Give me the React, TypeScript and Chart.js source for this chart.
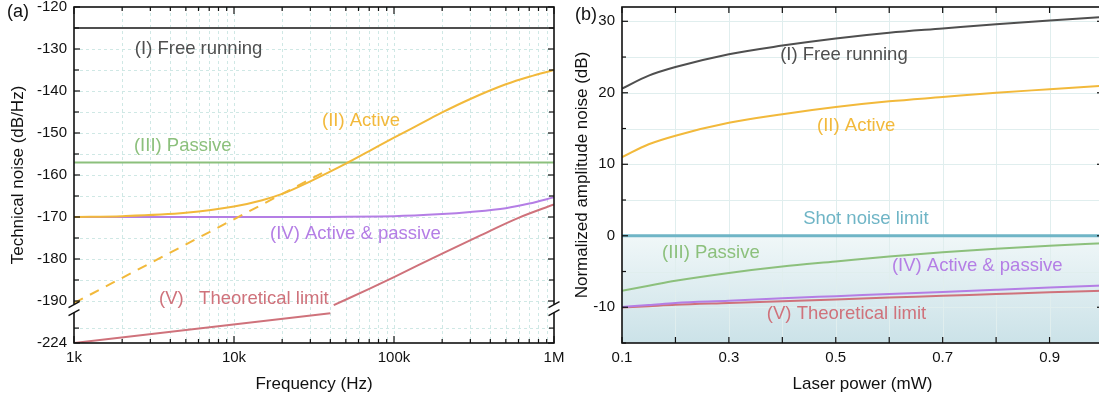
import React, { useEffect, useRef } from "react";
import { Chart, registerables } from "chart.js";

Chart.register(...registerables);

const FONT = "'Liberation Sans', Arial, Helvetica, sans-serif";

// ---------------- Panel (a): technical noise vs frequency ----------------
const A_X_TICK_VALUES = [1e3, 1e4, 1e5, 1e6];
const A_X_TICK_LABELS = ["1k", "10k", "100k", "1M"];
const A_Y_TICK_VALUES = [-120, -130, -140, -150, -160, -170, -180, -190, -224];
const A_Y_TICK_LABELS = ["-120", "-130", "-140", "-150", "-160", "-170", "-180", "-190", "-224"];
const A_Y_MINOR_VALUES = [-125, -135, -145, -155, -165, -175, -185, -212];

// axis break: values below the break are shown on a compressed segment
const A_BREAK_UPPER = -192.9; // lowest level of the uncompressed segment
const A_LOWER_RANGE = [-224, -200]; // real range shown in the compressed segment
const A_AXIS_BOTTOM = -200; // display value at the bottom edge
const A_AXIS_TOP = -120;

const A_FREE_FREQ = [1e3, 1e6];
const A_FREE_NOISE = [-125, -125];
const A_PASSIVE_FREQ = [1e3, 1e6];
const A_PASSIVE_NOISE = [-157, -157];
const A_ACTIVE_FREQ = [1e3, 2e3, 5e3, 1e4, 1.5e4, 2e4, 3e4, 5e4, 7e4, 1e5, 1.5e5, 2e5, 3e5, 5e5, 7e5, 1e6];
const A_ACTIVE_NOISE = [-170, -169.8, -169, -167.5, -166, -164.5, -161.5, -157.3, -154.3, -151.1, -147.6, -145.1, -141.9, -138.4, -136.6, -135];
const A_ACTIVE_ASYM_FREQ = [1e3, 4e4];
const A_ACTIVE_ASYM_NOISE = [-190.5, -158.5];
const A_BOTH_FREQ = [1e3, 1e4, 1e5, 2e5, 3e5, 5e5, 7e5, 1e6];
const A_BOTH_NOISE = [-170, -170, -169.8, -169.3, -168.8, -167.9, -166.8, -165.3];
const A_LIMIT_LOW_FREQ = [1e3, 4e4];
const A_LIMIT_LOW_NOISE = [-224, -200];
const A_LIMIT_HIGH_FREQ = [4.2e4, 7e4, 1e5, 2e5, 3.5e5, 6e5, 1e6];
const A_LIMIT_HIGH_NOISE = [-191, -187.1, -184.3, -178.7, -174.3, -170.2, -167];

// ---------------- Panel (b): normalized amplitude noise vs power ----------------
const B_X_TICK_VALUES = [0.1, 0.3, 0.5, 0.7, 0.9];
const B_X_TICK_LABELS = ["0.1", "0.3", "0.5", "0.7", "0.9"];
const B_X_MINOR_VALUES = [0.2, 0.4, 0.6, 0.8, 1.0];
const B_Y_TICK_VALUES = [30, 20, 10, 0, -10];
const B_Y_TICK_LABELS = ["30", "20", "10", "0", "-10"];
const B_Y_MINOR_VALUES = [25, 15, 5, -5, -15];

const B_POWER = [0.1, 0.15, 0.2, 0.3, 0.4, 0.5, 0.6, 0.7, 0.8, 0.9, 1.0];
const B_FREE = [20.6, 22.4, 23.6, 25.4, 26.6, 27.6, 28.4, 29.0, 29.6, 30.1, 30.6];
const B_ACTIVE = [11.0, 12.8, 14.0, 15.8, 17.0, 18.0, 18.8, 19.4, 20.0, 20.5, 21.0];
const B_PASSIVE = [-7.7, -7.0, -6.3, -5.2, -4.3, -3.6, -2.9, -2.3, -1.8, -1.4, -1.05];
const B_BOTH = [-9.95, -9.7, -9.4, -9.1, -8.75, -8.45, -8.15, -7.85, -7.55, -7.25, -6.95];
const B_LIMIT = [-10.05, -9.85, -9.65, -9.4, -9.15, -8.9, -8.65, -8.4, -8.15, -7.9, -7.7];
const B_SHOT = [0, 0, 0, 0, 0, 0, 0, 0, 0, 0, 0];

const COLORS = {
  free: "#4f4f4f",
  active: "#f2b93b",
  passive: "#8cc07c",
  both: "#b47ee5",
  limit: "#cf727b",
  shot: "#6fb5c6",
};

function aDisplay(v: number) {
  if (v >= A_BREAK_UPPER) return v;
  const [lo, hi] = A_LOWER_RANGE;
  return A_AXIS_BOTTOM + ((v - lo) / (hi - lo)) * (A_BREAK_UPPER - A_AXIS_BOTTOM);
}

function pts(xs: number[], ys: number[], map: (v: number) => number = (v) => v) {
  return xs.map((x, i) => ({ x, y: map(ys[i]) }));
}

function lineDs(label: string, data: any[], color: string, extra: any = {}) {
  return {
    label,
    data,
    borderColor: color,
    backgroundColor: color,
    borderWidth: 2,
    pointRadius: 0,
    cubicInterpolationMode: "monotone",
    fill: false,
    ...extra,
  };
}

interface Note { text: string; x: number; y: number; color: string }
interface FrameSpec {
  id: string;
  yMap: (v: number) => number;
  gridX: number[];
  gridY: number[];
  gridColor: string;
  gridDash: number[];
  xTicks: { v: number; major: boolean }[];
  yTicks: { v: number; major: boolean }[];
  xLabels: { v: number; text: string }[];
  yLabels: { v: number; text: string }[];
  xMajorLen: number;
  xMinorLen: number;
  yMajorLen: number;
  yMinorLen: number;
  breakAt?: number;
  xTitle: string;
  yTitle: string;
  yTitleX: number;
  xTitleX?: number;
  panel: string;
  panelX: number;
  panelY: number;
  notes: Note[];
}

function framePlugin(spec: FrameSpec) {
  return {
    id: spec.id,
    beforeDatasetsDraw(chart: any) {
      const { ctx, chartArea: a, scales } = chart;
      const xs = scales.x, ys = scales.y;
      ctx.save();
      ctx.strokeStyle = spec.gridColor;
      ctx.lineWidth = 1;
      ctx.setLineDash(spec.gridDash);
      for (const v of spec.gridX) {
        const px = Math.round(xs.getPixelForValue(v)) + 0.5;
        if (px <= a.left + 1 || px >= a.right - 1) continue;
        ctx.beginPath();
        ctx.moveTo(px, a.top);
        ctx.lineTo(px, a.bottom);
        ctx.stroke();
      }
      for (const v of spec.gridY) {
        const py = Math.round(ys.getPixelForValue(spec.yMap(v))) + 0.5;
        if (py <= a.top + 1 || py >= a.bottom - 1) continue;
        ctx.beginPath();
        ctx.moveTo(a.left, py);
        ctx.lineTo(a.right, py);
        ctx.stroke();
      }
      ctx.restore();
    },
    afterDraw(chart: any) {
      const { ctx, chartArea: a, scales } = chart;
      const xs = scales.x, ys = scales.y;
      const line = (x1: number, y1: number, x2: number, y2: number) => {
        ctx.beginPath();
        ctx.moveTo(x1, y1);
        ctx.lineTo(x2, y2);
        ctx.stroke();
      };
      ctx.save();
      ctx.setLineDash([]);
      ctx.strokeStyle = "#111";
      ctx.lineWidth = 1.2;
      for (const t of spec.xTicks) {
        const px = xs.getPixelForValue(t.v);
        const len = t.major ? spec.xMajorLen : spec.xMinorLen;
        line(px, a.bottom, px, a.bottom - len);
        line(px, a.top, px, a.top + len);
      }
      for (const t of spec.yTicks) {
        const py = ys.getPixelForValue(spec.yMap(t.v));
        const len = t.major ? spec.yMajorLen : spec.yMinorLen;
        line(a.left, py, a.left + len, py);
        line(a.right, py, a.right - len, py);
      }
      ctx.lineWidth = 1.6;
      ctx.strokeRect(a.left, a.top, a.right - a.left, a.bottom - a.top);

      if (spec.breakAt !== undefined) {
        const yb = ys.getPixelForValue(spec.breakAt);
        const ym = yb - 4.5;
        for (const x of [a.left, a.right]) {
          ctx.fillStyle = "#fff";
          ctx.fillRect(x - 2, ym - 4, 4, 8);
          ctx.strokeStyle = "#111";
          ctx.lineWidth = 1.4;
          line(x - 5.5, ym - 4 + 3, x + 5.5, ym - 4 - 3);
          line(x - 5.5, ym + 4 + 3, x + 5.5, ym + 4 - 3);
        }
      }

      ctx.fillStyle = "#111";
      ctx.font = `15px ${FONT}`;
      ctx.textAlign = "center";
      ctx.textBaseline = "middle";
      for (const l of spec.xLabels) {
        ctx.fillText(l.text, xs.getPixelForValue(l.v), a.bottom + 15);
      }
      ctx.textAlign = "right";
      for (const l of spec.yLabels) {
        ctx.fillText(l.text, a.left - 7, ys.getPixelForValue(spec.yMap(l.v)));
      }

      ctx.font = `17px ${FONT}`;
      ctx.textAlign = "center";
      ctx.fillText(spec.xTitle, spec.xTitleX ?? (a.left + a.right) / 2, a.bottom + 41);
      ctx.save();
      ctx.translate(spec.yTitleX, (a.top + a.bottom) / 2);
      ctx.rotate(-Math.PI / 2);
      ctx.fillText(spec.yTitle, 0, 0);
      ctx.restore();

      ctx.font = `18px ${FONT}`;
      ctx.textAlign = "left";
      ctx.fillText(spec.panel, spec.panelX, spec.panelY);

      ctx.font = `18.5px ${FONT}`;
      for (const n of spec.notes) {
        ctx.fillStyle = n.color;
        ctx.fillText(n.text, xs.getPixelForValue(n.x), ys.getPixelForValue(spec.yMap(n.y)));
      }
      ctx.restore();
    },
  };
}

function hiddenAxis(extra: any, fit: (s: any) => void) {
  return {
    display: true,
    ticks: { display: false },
    grid: { display: false, drawTicks: false },
    border: { display: false },
    afterFit: fit,
    ...extra,
  };
}

function buildA(canvas: HTMLCanvasElement) {
  const gridX: number[] = [];
  for (const d of [1e3, 1e4, 1e5]) for (let m = 1; m <= 9; m++) gridX.push(m * d);
  gridX.push(1e6);
  const spec: FrameSpec = {
    id: "frameA",
    yMap: aDisplay,
    gridX,
    gridY: [...A_Y_TICK_VALUES, ...A_Y_MINOR_VALUES],
    gridColor: "#cfe8e5",
    gridDash: [3, 3],
    xTicks: gridX.map((v) => ({ v, major: A_X_TICK_VALUES.includes(v) })),
    yTicks: [
      ...A_Y_TICK_VALUES.map((v) => ({ v, major: true })),
      ...A_Y_MINOR_VALUES.map((v) => ({ v, major: false })),
    ],
    xLabels: A_X_TICK_VALUES.map((v, i) => ({ v, text: A_X_TICK_LABELS[i] })),
    yLabels: A_Y_TICK_VALUES.map((v, i) => ({ v, text: A_Y_TICK_LABELS[i] })),
    xMajorLen: 7,
    xMinorLen: 4,
    yMajorLen: 6,
    yMinorLen: 5,
    breakAt: A_BREAK_UPPER,
    xTitle: "Frequency (Hz)",
    yTitle: "Technical noise (dB/Hz)",
    yTitleX: 18,
    panel: "(a)",
    panelX: 7,
    panelY: 12,
    notes: [
      { text: "(I) Free running", x: 2.4e3, y: -130, color: COLORS.free },
      { text: "(II) Active", x: 3.55e4, y: -147.1, color: COLORS.active },
      { text: "(III) Passive", x: 2.37e3, y: -153.1, color: COLORS.passive },
      { text: "(IV) Active & passive", x: 1.68e4, y: -174, color: COLORS.both },
      { text: "(V)   Theoretical limit", x: 3.4e3, y: -189.5, color: COLORS.limit },
    ],
  };
  return new Chart(canvas, {
    type: "line",
    data: {
      datasets: [
        lineDs("(II) Active", pts(A_ACTIVE_FREQ, A_ACTIVE_NOISE, aDisplay), COLORS.active),
        lineDs("(II) asymptote", pts(A_ACTIVE_ASYM_FREQ, A_ACTIVE_ASYM_NOISE, aDisplay), COLORS.active, { borderDash: [10, 8] }),
        lineDs("(I) Free running", pts(A_FREE_FREQ, A_FREE_NOISE, aDisplay), COLORS.free),
        lineDs("(III) Passive", pts(A_PASSIVE_FREQ, A_PASSIVE_NOISE, aDisplay), COLORS.passive),
        lineDs("(IV) Active & passive", pts(A_BOTH_FREQ, A_BOTH_NOISE, aDisplay), COLORS.both),
        lineDs("(V) low", pts(A_LIMIT_LOW_FREQ, A_LIMIT_LOW_NOISE, aDisplay), COLORS.limit),
        lineDs("(V) high", pts(A_LIMIT_HIGH_FREQ, A_LIMIT_HIGH_NOISE, aDisplay), COLORS.limit),
      ],
    },
    options: {
      animation: false,
      responsive: false,
      devicePixelRatio: 1,
      layout: { padding: { top: 7, right: 16, left: 0, bottom: 0 } },
      plugins: { legend: { display: false }, tooltip: { enabled: false } },
      scales: {
        x: hiddenAxis({ type: "logarithmic", min: 1e3, max: 1e6 }, (s: any) => { s.height = 57; }),
        y: hiddenAxis({ type: "linear", min: A_AXIS_BOTTOM, max: A_AXIS_TOP }, (s: any) => { s.width = 74; }),
      },
    } as any,
    plugins: [framePlugin(spec)],
  });
}

function buildB(canvas: HTMLCanvasElement) {
  const gridX = [...B_X_TICK_VALUES, ...B_X_MINOR_VALUES];
  const spec: FrameSpec = {
    id: "frameB",
    yMap: (v) => v,
    gridX,
    gridY: [...B_Y_TICK_VALUES, ...B_Y_MINOR_VALUES],
    gridColor: "#e0eeee",
    gridDash: [],
    xTicks: gridX.map((v) => ({ v, major: true })),
    yTicks: [
      ...B_Y_TICK_VALUES.map((v) => ({ v, major: true })),
      ...B_Y_MINOR_VALUES.map((v) => ({ v, major: false })),
    ],
    xLabels: B_X_TICK_VALUES.map((v, i) => ({ v, text: B_X_TICK_LABELS[i] })),
    yLabels: B_Y_TICK_VALUES.map((v, i) => ({ v, text: B_Y_TICK_LABELS[i] })),
    xMajorLen: 6,
    xMinorLen: 6,
    yMajorLen: 6,
    yMinorLen: 4,
    xTitle: "Laser power (mW)",
    yTitle: "Normalized amplitude noise (dB)",
    yTitleX: 12,
    panel: "(b)",
    panelX: 5,
    panelY: 15,
    notes: [
      { text: "(I) Free running", x: 0.396, y: 25.3, color: COLORS.free },
      { text: "(II) Active", x: 0.465, y: 15.4, color: COLORS.active },
      { text: "Shot noise limit", x: 0.439, y: 2.3, color: COLORS.shot },
      { text: "(III) Passive", x: 0.175, y: -2.4, color: COLORS.passive },
      { text: "(IV) Active & passive", x: 0.605, y: -4.2, color: COLORS.both },
      { text: "(V) Theoretical limit", x: 0.371, y: -10.9, color: COLORS.limit },
    ],
  };
  const shade = (c: any) => {
    const chart = c.chart;
    const area = chart.chartArea;
    if (!area) return "rgba(205,227,233,0.6)";
    const y0 = chart.scales.y.getPixelForValue(0);
    const g = chart.ctx.createLinearGradient(0, y0, 0, area.bottom);
    g.addColorStop(0, "#f0f7f8");
    g.addColorStop(1, "#cbe2e8");
    return g;
  };
  return new Chart(canvas, {
    type: "line",
    data: {
      datasets: [
        lineDs("(I) Free running", pts(B_POWER, B_FREE), COLORS.free),
        lineDs("(II) Active", pts(B_POWER, B_ACTIVE), COLORS.active),
        lineDs("(III) Passive", pts(B_POWER, B_PASSIVE), COLORS.passive),
        lineDs("(IV) Active & passive", pts(B_POWER, B_BOTH), COLORS.both),
        lineDs("(V) Theoretical limit", pts(B_POWER, B_LIMIT), COLORS.limit),
        lineDs("Shot noise limit", pts(B_POWER, B_SHOT), COLORS.shot, {
          borderWidth: 3,
          fill: "start",
          backgroundColor: shade,
        }),
      ],
    },
    options: {
      animation: false,
      responsive: false,
      devicePixelRatio: 1,
      layout: { padding: { top: 7, right: 27, left: 0, bottom: 0 } },
      plugins: {
        legend: { display: false },
        tooltip: { enabled: false },
        filler: { drawTime: "beforeDraw" },
      },
      scales: {
        x: hiddenAxis({ type: "linear", min: 0.1, max: 1.0 }, (s: any) => { s.height = 57; }),
        y: hiddenAxis({ type: "linear", min: -15, max: 32 }, (s: any) => { s.width = 52; }),
      },
    } as any,
    plugins: [framePlugin(spec)],
  });
}

export default function App() {
  const refA = useRef<HTMLCanvasElement>(null);
  const refB = useRef<HTMLCanvasElement>(null);
  useEffect(() => {
    const ca = buildA(refA.current!);
    const cb = buildB(refB.current!);
    return () => {
      ca.destroy();
      cb.destroy();
    };
  }, []);
  return (
    <div
      style={{
        position: "absolute",
        left: 0,
        top: 0,
        width: 1099,
        height: 400,
        overflow: "hidden",
        background: "#fff",
      }}
    >
      <canvas ref={refA} width={570} height={400} style={{ position: "absolute", left: 0, top: 0 }} />
      <canvas ref={refB} width={560} height={400} style={{ position: "absolute", left: 570, top: 0 }} />
    </div>
  );
}
